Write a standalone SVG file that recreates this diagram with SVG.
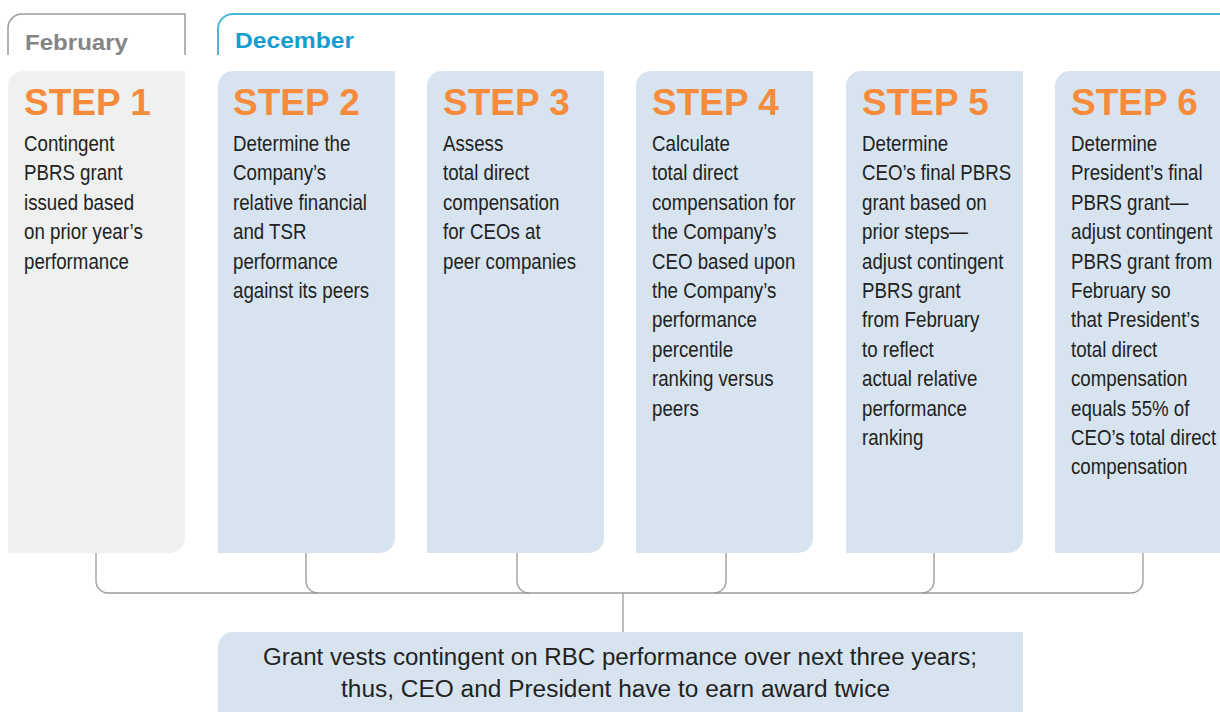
<svg xmlns="http://www.w3.org/2000/svg" width="1220" height="712" viewBox="0 0 1220 712">
  <style>
    .tab-feb { fill: none; stroke: #9a9a9a; stroke-width: 1.5; }
    .tab-dec { fill: none; stroke: #4bb6da; stroke-width: 2; }
    .tab-label { font-family: "Liberation Sans", Arial, sans-serif; font-weight: bold; font-size: 22px; }
    .box { fill: #d7e4ef; }
    .box-first { fill: #eff0f0; }
    .step { font-family: "Liberation Sans", Arial, sans-serif; font-weight: bold; font-size: 37px; fill: #f68b3c; }
    .body { font-family: "Liberation Sans", Arial, sans-serif; font-size: 22px; fill: #222222; }
    .note { font-family: "Liberation Sans", Arial, sans-serif; font-size: 23px; fill: #222222; }
    .conn { fill: none; stroke: #9a9a9a; stroke-width: 1.3; }
  </style>

  <!-- period tabs -->
  <g id="tab-february">
    <path class="tab-feb" d="M8,55 V28 A14,14 0 0 1 22,14 H185 V55"/>
    <text class="tab-label" x="25" y="50" fill="#858585" textLength="103" lengthAdjust="spacingAndGlyphs">February</text>
  </g>
  <g id="tab-december">
    <path class="tab-dec" d="M218,55 V29 A15,15 0 0 1 233,14 H1222"/>
    <text class="tab-label" x="235" y="48" fill="#169dd0" textLength="119" lengthAdjust="spacingAndGlyphs">December</text>
  </g>

  <!-- step cards: rounded top-left and bottom-right corners -->
  <g id="step1">
    <path class="box-first" d="M8,86 A15,15 0 0 1 23,71 H185 V538 A15,15 0 0 1 170,553 H8 Z"/>
    <text class="step" x="24" y="115">STEP 1</text>
    <text class="body" transform="translate(24,151) scale(0.85,1)">
      <tspan x="0" dy="0">Contingent</tspan>
      <tspan x="0" dy="29.4">PBRS grant</tspan>
      <tspan x="0" dy="29.4">issued based</tspan>
      <tspan x="0" dy="29.4">on prior year’s</tspan>
      <tspan x="0" dy="29.4">performance</tspan>
    </text>
  </g>

  <g id="step2">
    <path class="box" d="M218,86 A15,15 0 0 1 233,71 H395 V538 A15,15 0 0 1 380,553 H218 Z"/>
    <text class="step" x="233" y="115">STEP 2</text>
    <text class="body" transform="translate(233,151) scale(0.85,1)">
      <tspan x="0" dy="0">Determine the</tspan>
      <tspan x="0" dy="29.4">Company’s</tspan>
      <tspan x="0" dy="29.4">relative financial</tspan>
      <tspan x="0" dy="29.4">and TSR</tspan>
      <tspan x="0" dy="29.4">performance</tspan>
      <tspan x="0" dy="29.4">against its peers</tspan>
    </text>
  </g>

  <g id="step3">
    <path class="box" d="M427,86 A15,15 0 0 1 442,71 H604 V538 A15,15 0 0 1 589,553 H427 Z"/>
    <text class="step" x="443" y="115">STEP 3</text>
    <text class="body" transform="translate(443,151) scale(0.85,1)">
      <tspan x="0" dy="0">Assess</tspan>
      <tspan x="0" dy="29.4">total direct</tspan>
      <tspan x="0" dy="29.4">compensation</tspan>
      <tspan x="0" dy="29.4">for CEOs at</tspan>
      <tspan x="0" dy="29.4">peer companies</tspan>
    </text>
  </g>

  <g id="step4">
    <path class="box" d="M636,86 A15,15 0 0 1 651,71 H813 V538 A15,15 0 0 1 798,553 H636 Z"/>
    <text class="step" x="652" y="115">STEP 4</text>
    <text class="body" transform="translate(652,151) scale(0.85,1)">
      <tspan x="0" dy="0">Calculate</tspan>
      <tspan x="0" dy="29.4">total direct</tspan>
      <tspan x="0" dy="29.4">compensation for</tspan>
      <tspan x="0" dy="29.4">the Company’s</tspan>
      <tspan x="0" dy="29.4">CEO based upon</tspan>
      <tspan x="0" dy="29.4">the Company’s</tspan>
      <tspan x="0" dy="29.4">performance</tspan>
      <tspan x="0" dy="29.4">percentile</tspan>
      <tspan x="0" dy="29.4">ranking versus</tspan>
      <tspan x="0" dy="29.4">peers</tspan>
    </text>
  </g>

  <g id="step5">
    <path class="box" d="M846,86 A15,15 0 0 1 861,71 H1023 V538 A15,15 0 0 1 1008,553 H846 Z"/>
    <text class="step" x="862" y="115">STEP 5</text>
    <text class="body" transform="translate(862,151) scale(0.85,1)">
      <tspan x="0" dy="0">Determine</tspan>
      <tspan x="0" dy="29.4">CEO’s final PBRS</tspan>
      <tspan x="0" dy="29.4">grant based on</tspan>
      <tspan x="0" dy="29.4">prior steps—</tspan>
      <tspan x="0" dy="29.4">adjust contingent</tspan>
      <tspan x="0" dy="29.4">PBRS grant</tspan>
      <tspan x="0" dy="29.4">from February</tspan>
      <tspan x="0" dy="29.4">to reflect</tspan>
      <tspan x="0" dy="29.4">actual relative</tspan>
      <tspan x="0" dy="29.4">performance</tspan>
      <tspan x="0" dy="29.4">ranking</tspan>
    </text>
  </g>

  <g id="step6">
    <path class="box" d="M1055,86 A15,15 0 0 1 1070,71 H1222 V553 H1055 Z"/>
    <text class="step" x="1071" y="115">STEP 6</text>
    <text class="body" transform="translate(1071,151) scale(0.85,1)">
      <tspan x="0" dy="0">Determine</tspan>
      <tspan x="0" dy="29.4">President’s final</tspan>
      <tspan x="0" dy="29.4">PBRS grant—</tspan>
      <tspan x="0" dy="29.4">adjust contingent</tspan>
      <tspan x="0" dy="29.4">PBRS grant from</tspan>
      <tspan x="0" dy="29.4">February so</tspan>
      <tspan x="0" dy="29.4">that President’s</tspan>
      <tspan x="0" dy="29.4">total direct</tspan>
      <tspan x="0" dy="29.4">compensation</tspan>
      <tspan x="0" dy="29.4">equals 55% of</tspan>
      <tspan x="0" dy="29.4">CEO’s total direct</tspan>
      <tspan x="0" dy="29.4">compensation</tspan>
    </text>
  </g>

  <!-- summary card -->
  <g id="summary">
    <path class="box" d="M218,647 A15,15 0 0 1 233,632 H1023 V714 H218 Z"/>
    <text class="note" x="263" y="665" textLength="714" lengthAdjust="spacingAndGlyphs">Grant vests contingent on RBC performance over next three years;</text>
    <text class="note" x="341" y="697" textLength="549" lengthAdjust="spacingAndGlyphs">thus, CEO and President have to earn award twice</text>
  </g>

  <!-- bracket joining every step to the summary -->
  <g id="connectors">
    <path class="conn" d="M96,553 V581 A12,12 0 0 0 108,593 H1131 A12,12 0 0 0 1143,581 V553"/>
    <path class="conn" d="M306,553 V581 A12,12 0 0 0 318,593"/>
    <path class="conn" d="M517,553 V581 A12,12 0 0 0 529,593"/>
    <path class="conn" d="M726,553 V581 A12,12 0 0 1 714,593"/>
    <path class="conn" d="M934,553 V581 A12,12 0 0 1 922,593"/>
    <path class="conn" d="M623,593 V632"/>
  </g>
</svg>
